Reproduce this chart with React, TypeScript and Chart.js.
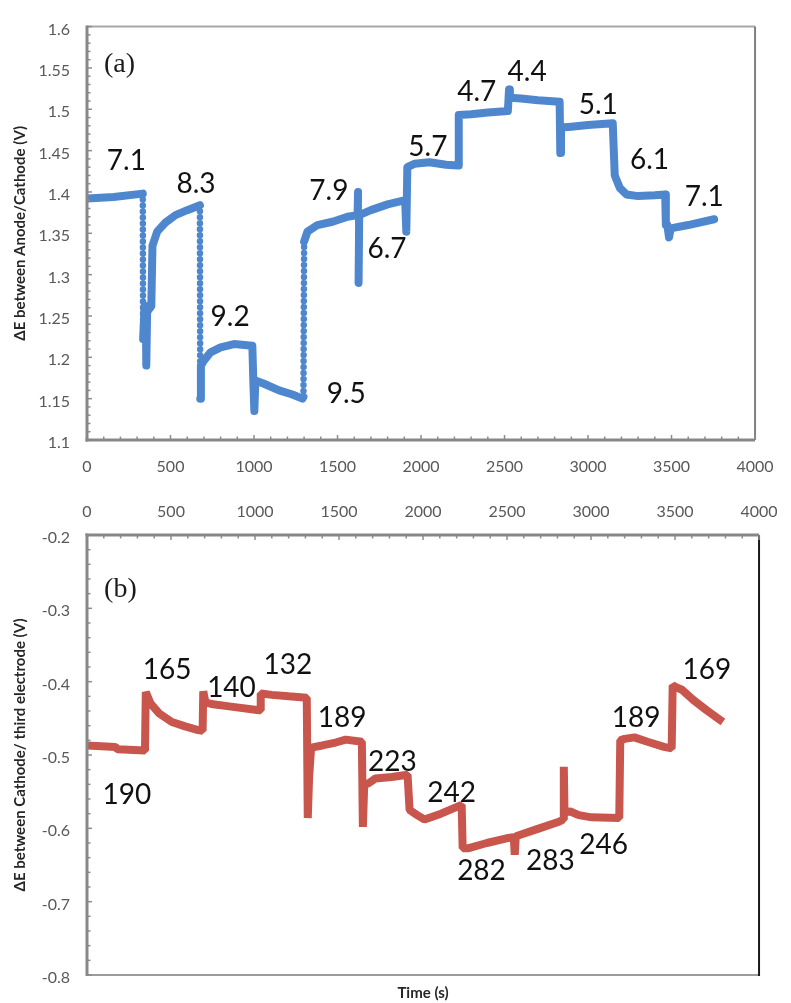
import React, { useEffect, useRef } from 'react';
import { Chart, registerables } from 'chart.js';

Chart.register(...registerables);

// ---------- Panel (a): ΔE between Anode/Cathode ----------
const timeA = [0, 160, 334, 336, 345, 352, 355, 360, 385, 392, 420, 470, 530, 600, 676, 678, 682, 700, 740, 800, 880, 990, 996, 1002, 1008, 1060, 1150, 1230, 1290, 1296, 1300, 1320, 1380, 1470, 1560, 1620, 1623, 1626, 1630, 1700, 1800, 1905, 1912, 1918, 1960, 2050, 2150, 2222, 2226, 2300, 2400, 2520, 2527, 2532, 2600, 2700, 2830, 2834, 2838, 2900, 3000, 3148, 3160, 3190, 3230, 3300, 3400, 3462, 3466, 3475, 3485, 3495, 3600, 3755];
const voltA = [1.392, 1.394, 1.398, 1.222, 1.262, 1.262, 1.19, 1.255, 1.262, 1.335, 1.352, 1.363, 1.372, 1.378, 1.384, 1.15, 1.19, 1.196, 1.206, 1.212, 1.216, 1.214, 1.17, 1.135, 1.172, 1.168, 1.16, 1.155, 1.15, 1.152, 1.34, 1.352, 1.36, 1.364, 1.37, 1.372, 1.4, 1.29, 1.372, 1.378, 1.385, 1.39, 1.352, 1.43, 1.434, 1.436, 1.433, 1.432, 1.493, 1.494, 1.496, 1.498, 1.524, 1.514, 1.513, 1.511, 1.509, 1.447, 1.478, 1.479, 1.481, 1.483, 1.42, 1.405, 1.397, 1.395, 1.396, 1.397, 1.36, 1.36, 1.345, 1.356, 1.36, 1.367];

const annotTextA = ['7.1', '8.3', '9.2', '9.5', '7.9', '6.7', '5.7', '4.7', '4.4', '5.1', '6.1', '7.1'];
const annotTimeA = [236, 653, 857, 1552, 1448, 1796, 2041, 2334, 2635, 3061, 3368, 3696];
const annotVoltA = [1.439, 1.411, 1.25, 1.157, 1.403, 1.332, 1.456, 1.522, 1.547, 1.506, 1.44, 1.395];

const panelTextA = '(a)';
const panelTimeA = 195;
const panelVoltA = 1.553;

// ---------- Panel (b): ΔE between Cathode/ third electrode ----------
const timeB = [0, 170, 180, 345, 350, 379, 428, 505, 584, 662, 688, 692, 705, 740, 857, 1013, 1030, 1034, 1100, 1200, 1308, 1314, 1322, 1334, 1400, 1480, 1540, 1636, 1642, 1650, 1680, 1716, 1814, 1908, 1920, 1965, 2009, 2107, 2230, 2236, 2272, 2380, 2497, 2540, 2546, 2552, 2575, 2692, 2809, 2835, 2838, 2842, 2877, 2927, 3004, 3168, 3174, 3200, 3258, 3336, 3434, 3480, 3486, 3502, 3541, 3609, 3688, 3785];
const voltB = [-0.487, -0.489, -0.492, -0.494, -0.414, -0.43, -0.443, -0.455, -0.461, -0.466, -0.467, -0.413, -0.428, -0.4305, -0.434, -0.4387, -0.439, -0.416, -0.418, -0.42, -0.422, -0.586, -0.53, -0.49, -0.487, -0.483, -0.479, -0.482, -0.598, -0.541, -0.538, -0.532, -0.53, -0.527, -0.575, -0.582, -0.588, -0.58, -0.568, -0.627, -0.627, -0.62, -0.6136, -0.612, -0.636, -0.611, -0.609, -0.6, -0.591, -0.588, -0.516, -0.578, -0.577, -0.582, -0.585, -0.586, -0.48, -0.478, -0.476, -0.482, -0.489, -0.491, -0.405, -0.407, -0.411, -0.425, -0.439, -0.455];

const annotTextB = ['165', '140', '132', '189', '190', '223', '242', '282', '283', '246', '189', '169'];
const annotTimeB = [477, 860, 1195, 1519, 237, 1818, 2170, 2348, 2758, 3075, 3268, 3689];
const annotVoltB = [-0.383, -0.407, -0.376, -0.448, -0.5525, -0.508, -0.551, -0.657, -0.643, -0.621, -0.4475, -0.382];

const panelTextB = '(b)';
const panelTimeB = 199;
const panelVoltB = -0.275;

// ---------- Axis ticks ----------
const xTickValues = [0, 500, 1000, 1500, 2000, 2500, 3000, 3500, 4000];
const yTickValuesA = [1.1, 1.15, 1.2, 1.25, 1.3, 1.35, 1.4, 1.45, 1.5, 1.55, 1.6];
const yTickValuesB = [-0.8, -0.7, -0.6, -0.5, -0.4, -0.3, -0.2];

const yTitleA = 'ΔE between Anode/Cathode (V)';
const yTitleB = 'ΔE between Cathode/ third electrode (V)';
const xTitleB = 'Time (s)';

// ---------- Styles ----------
const SANS = 'Lato, "Open Sans", "Noto Sans", sans-serif';
const SERIF = '"Liberation Serif", "DejaVu Serif", serif';
const TICK_FONT = { family: SANS, size: 16 };
const TITLE_FONT = { family: SANS, size: 15, weight: 'bold' as const };
const TICK_COLOR = '#595959';
const TITLE_COLOR = '#262626';
const BLUE = '#4f87cf';
const BLUE_DARK = 'rgba(40,64,140,0.8)';
const RED = '#c9564d';

const toPoints = (xs: number[], ys: number[]) => xs.map((x, i) => ({ x, y: ys[i] }));

const setTicks = (values: number[]) => (scale: any) => {
  scale.ticks = values.map((v) => ({ value: v }));
};
const fmt = (v: any) => String(v);

function line(ctx: CanvasRenderingContext2D, x1: number, y1: number, x2: number, y2: number) {
  ctx.beginPath();
  ctx.moveTo(x1, y1);
  ctx.lineTo(x2, y2);
  ctx.stroke();
}

function makeFramePlugin(kind: 'a' | 'b') {
  return {
    id: 'frame_' + kind,
    afterDatasetsDraw(chart: any) {
      const { ctx, chartArea } = chart;
      const { left, right, top, bottom } = chartArea;
      const x = chart.scales.x;
      const y = chart.scales.y;
      ctx.save();
      ctx.lineCap = 'butt';
      if (kind === 'a') {
        ctx.strokeStyle = '#a8a8a8';
        ctx.lineWidth = 2;
        line(ctx, left, top, right, top);
        ctx.strokeStyle = '#7f7f7f';
        line(ctx, right, top, right, bottom);
        ctx.strokeStyle = '#8c8c8c';
        ctx.lineWidth = 1.5;
        for (let t = 0; t <= 4000; t += 100) {
          const px = x.getPixelForValue(t);
          const len = t % 500 === 0 ? 5 : 3.5;
          line(ctx, px, bottom, px, bottom - len);
        }
        for (let k = 0; k <= 50; k++) {
          const v = 1.1 + k * 0.01;
          const py = y.getPixelForValue(v);
          const len = k % 5 === 0 ? 5 : 3.5;
          line(ctx, left, py, left + len, py);
        }
        ctx.strokeStyle = '#878787';
        ctx.lineWidth = 3;
        line(ctx, left, top - 1, left, bottom + 1.5);
        line(ctx, left - 1.5, bottom, right, bottom);
      } else {
        ctx.strokeStyle = '#9c9c9c';
        ctx.lineWidth = 2;
        line(ctx, left, bottom, right, bottom);
        ctx.strokeStyle = '#1a1a1a';
        ctx.lineWidth = 2;
        line(ctx, right, top, right, bottom + 1);
        ctx.strokeStyle = '#8c8c8c';
        ctx.lineWidth = 1.5;
        for (let t = 0; t <= 4000; t += 100) {
          const px = x.getPixelForValue(t);
          const len = t % 500 === 0 ? 5 : 3.5;
          line(ctx, px, top, px, top + len);
        }
        for (let k = 0; k <= 30; k++) {
          const v = -0.8 + k * 0.02;
          const py = y.getPixelForValue(v);
          const len = k % 5 === 0 ? 5 : 3.5;
          line(ctx, left, py, left + len, py);
        }
        ctx.strokeStyle = '#878787';
        ctx.lineWidth = 3;
        line(ctx, left, top - 1.5, left, bottom + 1);
        line(ctx, left - 1.5, top, right, top);
      }
      ctx.restore();
    },
  };
}

function makeAnnotationPlugin(
  kind: string,
  texts: string[],
  times: number[],
  volts: number[],
  panelText: string,
  panelTime: number,
  panelVolt: number
) {
  return {
    id: 'annot_' + kind,
    afterDraw(chart: any) {
      const { ctx } = chart;
      const x = chart.scales.x;
      const y = chart.scales.y;
      ctx.save();
      ctx.fillStyle = '#111111';
      ctx.textAlign = 'center';
      ctx.textBaseline = 'alphabetic';
      const size = 28;
      ctx.font = `${size}px ${SANS}`;
      texts.forEach((t, i) => {
        const px = x.getPixelForValue(times[i]);
        const py = y.getPixelForValue(volts[i]);
        ctx.fillText(t, px, py + size * 0.36);
      });
      ctx.font = `28px ${SERIF}`;
      ctx.fillStyle = '#1a1a1a';
      ctx.fillText(panelText, x.getPixelForValue(panelTime), y.getPixelForValue(panelVolt) + 7);
      ctx.restore();
    },
  };
}

const isLongVertical = (c: any, lim: number) =>
  Math.abs(c.p1.parsed.y - c.p0.parsed.y) > lim && Math.abs(c.p1.parsed.x - c.p0.parsed.x) < 20;

export default function App() {
  const refA = useRef<HTMLCanvasElement>(null);
  const refB = useRef<HTMLCanvasElement>(null);

  useEffect(() => {
    const chartA = new Chart(refA.current as HTMLCanvasElement, {
      type: 'scatter',
      data: {
        datasets: [
          {
            data: toPoints(timeA, voltA),
            showLine: true,
            borderColor: BLUE,
            backgroundColor: BLUE,
            borderWidth: 8,
            pointRadius: 0,
            borderCapStyle: 'round',
            borderJoinStyle: 'round',
            segment: {
              borderWidth: (c: any) => (isLongVertical(c, 0.1) ? 6.5 : undefined),
              borderDash: (c: any) => (isLongVertical(c, 0.1) ? [0, 6] : undefined),
              borderCapStyle: (c: any) => (isLongVertical(c, 0.1) ? 'round' : undefined),
            },
          } as any,
          {
            data: toPoints(timeA, voltA),
            showLine: true,
            borderColor: BLUE_DARK,
            borderWidth: 1.5,
            borderDash: [3, 2],
            pointRadius: 0,
            segment: {
              borderColor: (c: any) => (isLongVertical(c, 0.02) ? 'rgba(0,0,0,0)' : undefined),
            },
          } as any,
        ],
      },
      options: {
        animation: false,
        responsive: false,
        maintainAspectRatio: false,
        layout: { padding: { top: 16, right: 27, left: 0, bottom: 0 } },
        plugins: { legend: { display: false }, tooltip: { enabled: false }, title: { display: false } },
        scales: {
          x: {
            type: 'linear',
            position: 'bottom',
            min: 0,
            max: 4000,
            afterBuildTicks: setTicks(xTickValues),
            afterFit: (s: any) => {
              s.height = 50;
            },
            grid: { display: false, drawTicks: false },
            border: { display: false },
            ticks: { font: TICK_FONT, color: TICK_COLOR, padding: 17.4, maxRotation: 0, autoSkip: false, callback: fmt },
          },
          y: {
            type: 'linear',
            min: 1.1,
            max: 1.6,
            afterBuildTicks: setTicks(yTickValuesA),
            afterFit: (s: any) => {
              s.width = 87;
            },
            grid: { display: false, drawTicks: false },
            border: { display: false },
            ticks: { font: TICK_FONT, color: TICK_COLOR, padding: 17, labelOffset: 3, autoSkip: false, callback: fmt },
            title: { display: true, text: yTitleA, font: TITLE_FONT, color: TITLE_COLOR, padding: { top: 11, bottom: 0 } },
          },
        },
      } as any,
      plugins: [
        makeFramePlugin('a'),
        makeAnnotationPlugin('a', annotTextA, annotTimeA, annotVoltA, panelTextA, panelTimeA, panelVoltA),
      ],
    });

    const chartB = new Chart(refB.current as HTMLCanvasElement, {
      type: 'scatter',
      data: {
        datasets: [
          {
            data: toPoints(timeB, voltB),
            showLine: true,
            borderColor: RED,
            backgroundColor: RED,
            borderWidth: 8,
            pointRadius: 0,
            borderCapStyle: 'butt',
            borderJoinStyle: 'bevel',
          } as any,
        ],
      },
      options: {
        animation: false,
        responsive: false,
        maintainAspectRatio: false,
        layout: { padding: { top: 0, right: 20, left: 0, bottom: 0 } },
        plugins: { legend: { display: false }, tooltip: { enabled: false }, title: { display: false } },
        scales: {
          x: {
            type: 'linear',
            position: 'top',
            min: 0,
            max: 4000,
            afterBuildTicks: setTicks(xTickValues),
            afterFit: (s: any) => {
              s.height = 45;
            },
            grid: { display: false, drawTicks: false },
            border: { display: false },
            ticks: { font: TICK_FONT, color: TICK_COLOR, padding: 13.4, maxRotation: 0, autoSkip: false, callback: fmt },
          },
          xb: {
            type: 'linear',
            position: 'bottom',
            min: 0,
            max: 4000,
            afterFit: (s: any) => {
              s.height = 28;
            },
            grid: { display: false, drawTicks: false },
            border: { display: false },
            ticks: { display: false },
            title: { display: true, text: xTitleB, font: TITLE_FONT, color: TITLE_COLOR, padding: { top: 0, bottom: 1 } },
          },
          y: {
            type: 'linear',
            min: -0.8,
            max: -0.2,
            afterBuildTicks: setTicks(yTickValuesB),
            afterFit: (s: any) => {
              s.width = 87;
            },
            grid: { display: false, drawTicks: false },
            border: { display: false },
            ticks: { font: TICK_FONT, color: TICK_COLOR, padding: 17, labelOffset: 3, autoSkip: false, callback: fmt },
            title: { display: true, text: yTitleB, font: TITLE_FONT, color: TITLE_COLOR, padding: { top: 11, bottom: 0 } },
          },
        },
      } as any,
      plugins: [
        makeFramePlugin('b'),
        makeAnnotationPlugin('b', annotTextB, annotTimeB, annotVoltB, panelTextB, panelTimeB, panelVoltB),
      ],
    });

    return () => {
      chartA.destroy();
      chartB.destroy();
    };
  }, []);

  return (
    <div style={{ position: 'absolute', left: 0, top: 0, width: 791, height: 1003, background: '#ffffff' }}>
      <canvas
        ref={refA}
        width={791}
        height={490}
        style={{ position: 'absolute', left: 0, top: 0, width: 791, height: 490, display: 'block' }}
      />
      <canvas
        ref={refB}
        width={791}
        height={513}
        style={{ position: 'absolute', left: 0, top: 490, width: 791, height: 513, display: 'block' }}
      />
    </div>
  );
}
